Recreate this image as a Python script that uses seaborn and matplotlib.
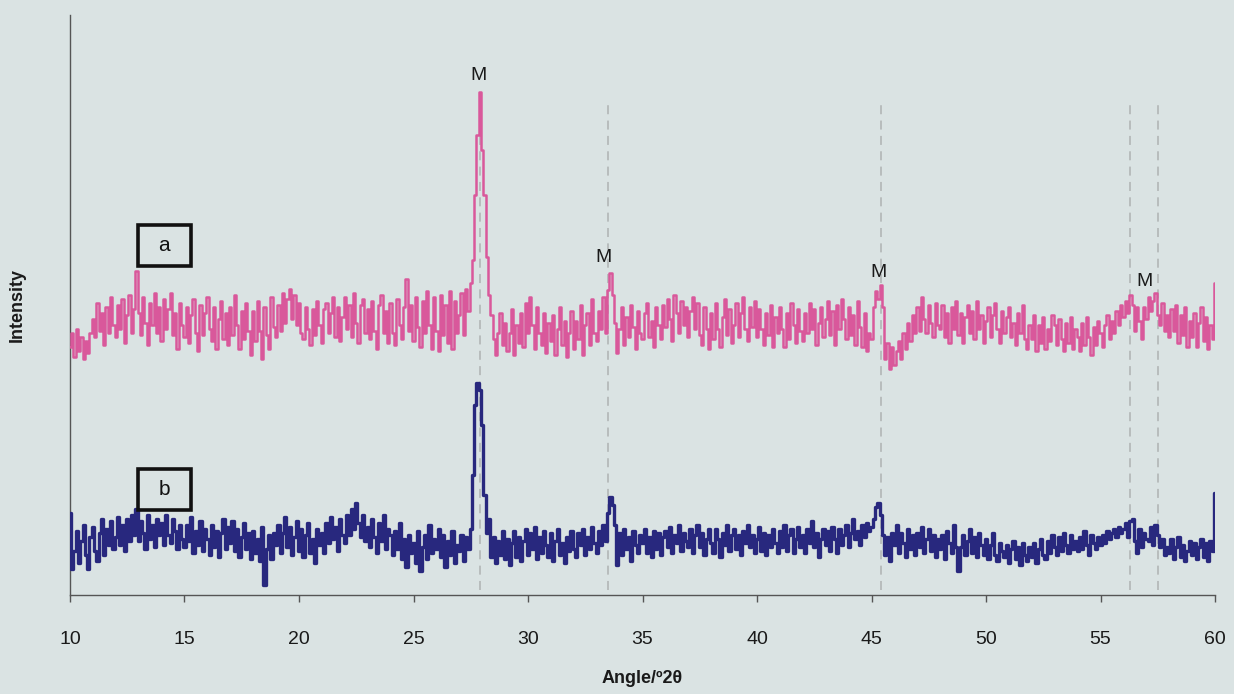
import numpy as np
import pandas as pd
import matplotlib
matplotlib.use("Agg")
import matplotlib.pyplot as plt
from matplotlib.patches import Rectangle
import seaborn as sns

# ---------------- data ----------------
angle_start, angle_step = 10.0, 0.1

intensity_a = [
    248, 262, 238, 266, 244, 258, 236, 254, 242, 262,
    276, 258, 292, 264, 282, 250, 288, 262, 298, 270,
    258, 290, 266, 296, 252, 280, 300, 262, 286, 324,
    282, 260, 298, 272, 250, 292, 270, 302, 262, 288,
    254, 296, 266, 286, 302, 260, 282, 246, 292, 270,
    258, 288, 252, 280, 296, 262, 244, 290, 260, 282,
    298, 266, 254, 288, 246, 276, 294, 256, 282, 250,
    288, 260, 300, 270, 246, 284, 256, 292, 264, 240,
    284, 254, 294, 264, 236, 288, 260, 246, 298, 268,
    258, 290, 264, 302, 272, 296, 306, 276, 300, 270,
    292, 262, 256, 288, 266, 250, 286, 260, 294, 270,
    252, 286, 292, 262, 282, 298, 258, 288, 254, 278,
    298, 266, 290, 258, 302, 272, 252, 290, 296, 262,
    286, 256, 294, 264, 246, 290, 300, 262, 284, 252,
    292, 262, 250, 296, 270, 256, 288, 316, 264, 290,
    254, 298, 268, 248, 294, 262, 304, 270, 246, 298,
    264, 244, 300, 260, 290, 252, 304, 246, 294, 262,
    280, 302, 260, 306, 284, 312, 335, 400, 460, 503,
    445, 400, 338, 300, 280, 256, 240, 262, 282, 250,
    272, 244, 262, 286, 240, 270, 252, 282, 248, 292,
    262, 298, 270, 246, 288, 262, 250, 282, 242, 272,
    254, 280, 240, 266, 288, 250, 274, 238, 262, 284,
    246, 274, 256, 290, 240, 270, 282, 250, 296, 262,
    254, 284, 266, 298, 262, 305, 322, 300, 272, 242,
    266, 288, 250, 278, 258, 290, 268, 246, 284, 262,
    256, 282, 292, 258, 274, 248, 288, 270, 256, 290,
    268, 296, 276, 254, 300, 282, 262, 294, 270, 288,
    258, 284, 298, 266, 292, 260, 250, 288, 266, 246,
    282, 256, 292, 266, 248, 278, 296, 260, 286, 252,
    270, 292, 258, 282, 298, 266, 254, 288, 268, 294,
    258, 286, 266, 250, 282, 260, 290, 248, 278, 262,
    288, 266, 248, 282, 256, 292, 270, 252, 286, 264,
    254, 282, 262, 292, 266, 286, 250, 272, 288, 258,
    276, 294, 260, 284, 250, 290, 266, 296, 276, 256,
    288, 260, 280, 250, 294, 268, 248, 282, 244, 262,
    256, 288, 304, 296, 310, 288, 236, 252, 226, 248,
    230, 244, 254, 236, 262, 246, 272, 254, 280, 262,
    288, 264, 298, 276, 262, 290, 272, 258, 292, 270,
    266, 290, 258, 282, 252, 288, 266, 294, 260, 282,
    252, 278, 290, 262, 284, 256, 294, 266, 280, 252,
    274, 288, 258, 280, 292, 266, 252, 284, 262, 278,
    288, 258, 272, 250, 282, 262, 290, 256, 246, 270,
    256, 280, 244, 270, 252, 278, 246, 266, 254, 280,
    270, 250, 276, 256, 244, 272, 252, 278, 246, 266,
    258, 244, 272, 250, 278, 258, 240, 268, 250, 274,
    262, 248, 270, 280, 256, 274, 262, 284, 270, 290,
    278, 294, 282, 300, 290, 264, 288, 274, 256, 288,
    276, 298, 284, 294, 302, 280, 270, 292, 264, 280,
    258, 286, 264, 290, 252, 280, 260, 288, 248, 274,
    258, 282, 248, 272, 288, 254, 278, 246, 270, 256,
    312,
]

intensity_b = [
    82, 26, 44, 64, 32, 54, 70, 40, 26, 58,
    68, 44, 34, 62, 76, 40, 66, 50, 74, 46,
    58, 78, 50, 70, 44, 76, 54, 80, 60, 86,
    54, 74, 62, 46, 80, 56, 70, 48, 76, 60,
    72, 50, 80, 60, 52, 76, 64, 46, 70, 56,
    48, 70, 54, 78, 42, 64, 50, 74, 44, 66,
    56, 40, 70, 48, 64, 38, 62, 76, 46, 68,
    52, 74, 44, 66, 38, 58, 72, 46, 62, 36,
    64, 42, 56, 34, 68, 10, 46, 60, 36, 62,
    50, 70, 42, 62, 78, 48, 68, 40, 58, 74,
    44, 66, 38, 60, 72, 42, 56, 32, 66, 50,
    62, 42, 72, 52, 78, 56, 68, 44, 76, 60,
    52, 80, 60, 86, 66, 92, 72, 58, 80, 54,
    68, 48, 76, 58, 42, 72, 54, 80, 46, 66,
    60, 40, 64, 46, 72, 36, 56, 28, 60, 42,
    52, 32, 64, 24, 48, 60, 36, 70, 42, 56,
    46, 66, 38, 60, 28, 54, 40, 64, 32, 50,
    44, 60, 34, 58, 46, 66, 120, 190, 212, 205,
    170, 100, 62, 76, 38, 58, 32, 54, 40, 64,
    36, 56, 30, 52, 64, 38, 58, 34, 54, 66,
    40, 62, 46, 68, 36, 58, 42, 64, 50, 38,
    62, 34, 54, 66, 40, 52, 32, 58, 44, 64,
    46, 38, 62, 50, 66, 40, 58, 46, 68, 52,
    42, 64, 50, 70, 54, 82, 98, 90, 70, 30,
    62, 40, 66, 46, 58, 34, 64, 50, 42, 60,
    52, 66, 42, 58, 38, 64, 46, 62, 40, 58,
    64, 48, 68, 42, 60, 52, 70, 44, 62, 54,
    48, 66, 42, 60, 70, 48, 62, 40, 56, 66,
    52, 42, 66, 56, 38, 62, 50, 70, 44, 60,
    66, 46, 60, 40, 64, 52, 70, 48, 60, 42,
    56, 68, 44, 62, 40, 60, 48, 66, 52, 42,
    64, 48, 70, 44, 60, 66, 42, 56, 68, 48,
    60, 42, 66, 52, 74, 48, 62, 38, 56, 66,
    50, 64, 44, 68, 56, 42, 66, 50, 60, 70,
    48, 62, 76, 56, 64, 50, 70, 58, 72, 64,
    68, 76, 88, 92, 80, 60, 40, 58, 34, 62,
    50, 70, 42, 62, 52, 38, 66, 46, 60, 40,
    62, 48, 68, 42, 56, 66, 44, 60, 38, 56,
    46, 60, 36, 64, 52, 42, 70, 48, 24, 48,
    60, 40, 54, 66, 42, 58, 38, 62, 50, 40,
    56, 36, 50, 62, 40, 34, 52, 44, 38, 50,
    32, 46, 54, 36, 48, 30, 52, 40, 34, 48,
    38, 52, 32, 46, 56, 40, 36, 54, 42, 60,
    48, 40, 58, 44, 62, 50, 42, 60, 46, 54,
    44, 58, 46, 64, 50, 40, 60, 52, 46, 58,
    50, 60, 52, 64, 56, 62, 66, 58, 68, 62,
    66, 72, 58, 74, 76, 54, 42, 66, 48, 62,
    56, 54, 68, 50, 70, 60, 48, 56, 40, 48,
    42, 56, 36, 48, 58, 38, 50, 34, 44, 54,
    40, 52, 36, 48, 56, 38, 52, 34, 54, 44,
    102,
]

ref_angles = [27.9, 33.5, 45.4, 56.3, 57.5]
peak_labels = ["M", "M", "M", "M"]
peak_label_x = [27.85, 33.3, 45.3, 56.9]
peak_label_y = [520, 338, 323, 314]
sample_labels = ["a", "b"]
sample_box_y = [329, 85]

x_ticks = [10, 15, 20, 25, 30, 35, 40, 45, 50, 55, 60]

# ---------------- figure ----------------
angles = angle_start + angle_step * np.arange(len(intensity_a))
df = pd.DataFrame({"angle": np.concatenate([angles, angles]),
                   "intensity": intensity_a + intensity_b,
                   "sample": ["a"] * len(angles) + ["b"] * len(angles)})

sns.set_theme(style="white")
plt.rcParams["font.family"] = ["Liberation Sans", "DejaVu Sans"]

bg = "#dae3e3"
fig = plt.figure(figsize=(12.34, 6.94), dpi=100, facecolor=bg)
ax = fig.add_axes([0.0567, 0.1427, 0.928, 0.835])
ax.set_facecolor(bg)

ax.vlines(ref_angles, 5, 495, colors="#b5baba", linestyles=(0, (5, 3.5)),
          linewidth=1.3, zorder=1)

sns.lineplot(data=df[df["sample"] == "a"], x="angle", y="intensity", ax=ax,
             color="#d9589b", linewidth=1.8, drawstyle="steps-mid", zorder=3)
sns.lineplot(data=df[df["sample"] == "b"], x="angle", y="intensity", ax=ax,
             color="#28287e", linewidth=2.4, drawstyle="steps-mid", zorder=3)

for lab, xx, yy in zip(peak_labels, peak_label_x, peak_label_y):
    ax.text(xx, yy, lab, ha="center", va="center", fontsize=14, color="#1a1a1a")

for lab, yb in zip(sample_labels, sample_box_y):
    ax.add_patch(Rectangle((12.95, yb), 2.35, 41, fill=False,
                           edgecolor="#111111", linewidth=2.6, zorder=4))
    ax.text(14.12, yb + 20.5, lab, ha="center", va="center", fontsize=15,
            color="#111111")

ax.set_xlim(10, 60)
ax.set_ylim(0, 580)
ax.set_xticks(x_ticks)
ax.set_xticklabels([str(t) for t in x_ticks], fontsize=14, color="#1a1a1a")
ax.set_yticks([])
ax.tick_params(axis="x", direction="out", length=5, width=1, color="#555555",
               pad=21, bottom=True)
for s in ["top", "right"]:
    ax.spines[s].set_visible(False)
for s in ["left", "bottom"]:
    ax.spines[s].set_color("#555555")
    ax.spines[s].set_linewidth(1.0)

ax.set_xlabel("Angle/º2θ", fontsize=13, fontweight="bold", labelpad=16,
              color="#1a1a1a")
ax.set_ylabel("Intensity", fontsize=13, fontweight="bold", labelpad=32,
              color="#1a1a1a")

fig.savefig("out.png", dpi=100, facecolor=bg)
